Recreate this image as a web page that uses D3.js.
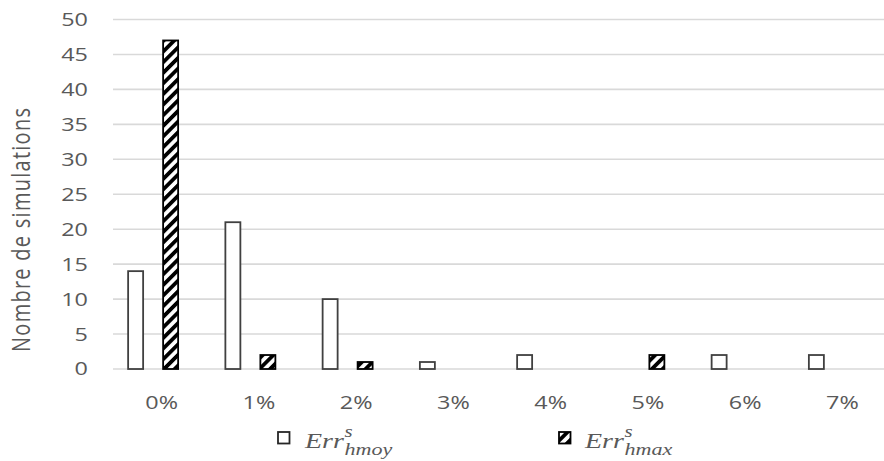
<!DOCTYPE html>
<html><head><meta charset="utf-8">
<script src="https://cdn.jsdelivr.net/npm/d3@7"></script>
<style>body{margin:0;background:#fff}</style>
</head><body><svg id="c" width="884" height="461"></svg>
<script>
const categories = ["0%","1%","2%","3%","4%","5%","6%","7%"];
const seriesKeys = ["hmoy","hmax"];
const valuesHmoy = [14,21,10,1,2,0,2,2];
const valuesHmax = [47,2,1,0,0,2,0,0];
const yTicks = [0,5,10,15,20,25,30,35,40,45,50];
const yTitle = "Nombre de simulations";

const svg = d3.select("#c");
const SX = 1.3;
const textCol = "#595959";

const defs = svg.append("defs");
const pat = defs.append("pattern").attr("id","hatch").attr("patternUnits","userSpaceOnUse")
  .attr("width",7.5).attr("height",7.5).attr("patternTransform","rotate(45)");
pat.append("rect").attr("width",7.5).attr("height",7.5).attr("fill","#fff");
pat.append("rect").attr("x",0).attr("width",3.8).attr("height",7.5).attr("fill","#000");

const x = d3.scaleBand().domain(categories).range([113, 891]).padding(0);
const xs = d3.scaleBand().domain(seriesKeys).range([-43.5, 26.5]);
const y = d3.scaleLinear().domain([0,50]).range([369, 19.5]);
const barW = 15;

// gridlines
svg.append("g").selectAll("line").data(yTicks).join("line")
  .attr("x1",113).attr("x2",884)
  .attr("y1",d=>y(d)).attr("y2",d=>y(d))
  .attr("stroke","#d9d9d9").attr("stroke-width",1.6);

// y tick labels
svg.append("g").selectAll("text").data(yTicks).join("text")
  .attr("transform",d=>`translate(88,${y(d)}) scale(${SX},1)`)
  .attr("text-anchor","end").attr("dy","0.36em")
  .attr("font-family","'Open Sans', sans-serif").attr("font-size",18)
  .attr("fill",textCol).text(d=>d);

// x tick labels
svg.append("g").selectAll("text").data(categories).join("text")
  .attr("transform",d=>`translate(${x(d)+x.bandwidth()/2},409) scale(${SX},1)`)
  .attr("text-anchor","middle")
  .attr("font-family","'Open Sans', sans-serif").attr("font-size",18)
  .attr("fill",textCol).text(d=>d);

// y title
svg.append("text")
  .attr("transform",`translate(30,230) scale(${SX},1) rotate(-90)`)
  .attr("text-anchor","middle")
  .attr("font-family","'Open Sans', sans-serif").attr("font-size",20)
  .attr("textLength",244).attr("lengthAdjust","spacing")
  .attr("fill",textCol).text(yTitle);

const data = [];
categories.forEach((c,i)=>{
  data.push({c, k:"hmoy", v:valuesHmoy[i]});
  data.push({c, k:"hmax", v:valuesHmax[i]});
});

svg.append("g").selectAll("rect").data(data.filter(d=>d.v>0)).join("rect")
  .attr("x",d=>x(d.c)+x.bandwidth()/2+xs(d.k)+(xs.bandwidth()-barW)/2)
  .attr("y",d=>y(d.v))
  .attr("width",barW)
  .attr("height",d=>y(0)-y(d.v))
  .attr("fill",d=>d.k==="hmoy"?"#fff":"url(#hatch)")
  .attr("stroke",d=>d.k==="hmoy"?"#404040":"#000")
  .attr("stroke-width",1.8);

// legend
const legend = [
  {k:"hmoy", sx:278, tx:305},
  {k:"hmax", sx:559, tx:585}
];
legend.forEach(l=>{
  svg.append("rect").attr("x",l.sx).attr("y",432).attr("width",11.5).attr("height",11.5)
    .attr("fill",l.k==="hmoy"?"#fff":"url(#hatch)")
    .attr("stroke",l.k==="hmoy"?"#262626":"#000").attr("stroke-width",1.8);
  const g = svg.append("g").attr("transform",`translate(${l.tx},0) scale(${SX},1)`)
    .attr("font-family","'Liberation Serif', serif").attr("font-style","italic").attr("fill",textCol);
  const t = g.append("text").attr("x",0).attr("y",448).attr("font-size",21.5).text("Err");
  const w = t.node().getComputedTextLength();
  g.append("text").attr("x",w+0.5).attr("y",437).attr("font-size",16).text("s");
  g.append("text").attr("x",w+0.5).attr("y",455.5).attr("font-size",17).text(l.k);
});
</script></body></html>
